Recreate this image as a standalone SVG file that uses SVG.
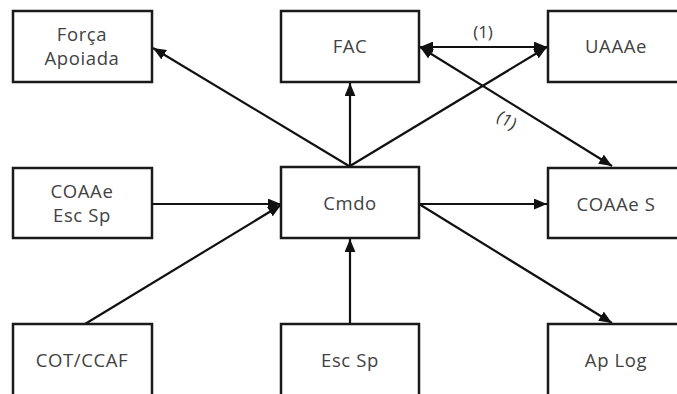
<svg xmlns="http://www.w3.org/2000/svg" width="677" height="394" viewBox="0 0 677 394">
  <style>
    .box { fill: #ffffff; stroke: #1a1a1a; stroke-width: 2.5; }
    .lbl { font-family: "Open Sans", "DejaVu Sans", sans-serif; font-size: 18.5px; font-weight: 500; letter-spacing: 0.6px; fill: #424242; text-anchor: middle; }
    .edge { stroke: #111111; stroke-width: 2.2; fill: none; }
    .note { font-family: "Open Sans", "DejaVu Sans", sans-serif; font-size: 17px; fill: #3a3a3a; text-anchor: middle; }
  </style>
  <defs>
    <marker id="arrow" viewBox="0 0 12 10" refX="12" refY="5" markerWidth="13" markerHeight="11" markerUnits="userSpaceOnUse" orient="auto-start-reverse">
      <path d="M0,0 L12,5 L0,10 Z" fill="#111111"/>
    </marker>
  </defs>
  <rect width="677" height="394" fill="#ffffff"/>

  <g id="connectors">
    <line class="edge" x1="349" y1="166" x2="153" y2="48" marker-end="url(#arrow)"/>
    <line class="edge" x1="350" y1="166" x2="350" y2="83" marker-end="url(#arrow)"/>
    <line class="edge" x1="350" y1="166" x2="547" y2="47" marker-end="url(#arrow)"/>
    <line class="edge" x1="420" y1="47" x2="547" y2="47" marker-start="url(#arrow)" marker-end="url(#arrow)"/>
    <line class="edge" x1="420" y1="47" x2="612" y2="166" marker-start="url(#arrow)" marker-end="url(#arrow)"/>
    <line class="edge" x1="152" y1="204" x2="281" y2="204" marker-end="url(#arrow)"/>
    <line class="edge" x1="85" y1="324" x2="281" y2="205" marker-end="url(#arrow)"/>
    <line class="edge" x1="419" y1="204" x2="547" y2="204" marker-end="url(#arrow)"/>
    <line class="edge" x1="419" y1="204" x2="612" y2="323" marker-end="url(#arrow)"/>
    <line class="edge" x1="350" y1="324" x2="350" y2="239" marker-end="url(#arrow)"/>
    <text class="note" x="483" y="38">(1)</text>
    <text class="note" x="507" y="126" transform="rotate(31 507 120)">(1)</text>
  </g>

  <g id="forca-apoiada">
    <rect class="box" x="13" y="11" width="139" height="71"/>
    <text class="lbl" x="82" y="41">Força</text>
    <text class="lbl" x="82" y="65">Apoiada</text>
  </g>
  <g id="fac">
    <rect class="box" x="281" y="11" width="138" height="71"/>
    <text class="lbl" x="350" y="53">FAC</text>
  </g>
  <g id="uaaae">
    <rect class="box" x="548" y="11" width="138" height="71"/>
    <text class="lbl" x="616" y="53">UAAAe</text>
  </g>
  <g id="coaae-esc-sp">
    <rect class="box" x="13" y="168" width="139" height="70"/>
    <text class="lbl" x="82" y="198">COAAe</text>
    <text class="lbl" x="82" y="222">Esc Sp</text>
  </g>
  <g id="cmdo">
    <rect class="box" x="281" y="167" width="138" height="71"/>
    <text class="lbl" x="350" y="210">Cmdo</text>
  </g>
  <g id="coaae-s">
    <rect class="box" x="548" y="168" width="138" height="70"/>
    <text class="lbl" x="616" y="211">COAAe S</text>
  </g>
  <g id="cot-ccaf">
    <rect class="box" x="13" y="324" width="139" height="80"/>
    <text class="lbl" x="82" y="367">COT/CCAF</text>
  </g>
  <g id="esc-sp">
    <rect class="box" x="281" y="324" width="138" height="80"/>
    <text class="lbl" x="350" y="367">Esc Sp</text>
  </g>
  <g id="ap-log">
    <rect class="box" x="548" y="324" width="138" height="80"/>
    <text class="lbl" x="616" y="367">Ap Log</text>
  </g>
</svg>
